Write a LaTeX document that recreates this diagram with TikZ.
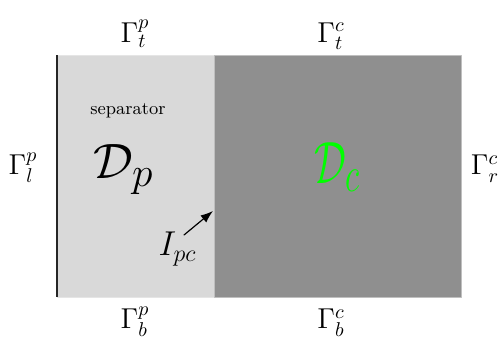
\documentclass[tikz,border=0pt]{standalone}
\usetikzlibrary{arrows.meta}
\tikzset{
  bdry/.style={anchor=base, font=\Large},
  domlabel/.style={anchor=base, font=\Huge},
}
\begin{document}
\begin{tikzpicture}[line cap=round,line join=round]
  \useasboundingbox (0,0) rectangle (8.835,6.107);
  % separator and cathode
  \filldraw[fill=black!15, draw=black!10, line width=0.4pt] (1.003,0.880) rectangle (3.766,5.139);
  \filldraw[fill=black!44, draw=black!25, line width=0.4pt] (3.766,0.880) rectangle (8.114,5.139);
  \draw[line width=0.8pt, black!85, line cap=butt] (1.003,0.880) -- (1.003,5.139);
  % boundaries
  \node[bdry] (gpt) at (2.376,5.367) {$\Gamma_t^p$};
  \node[bdry] (gct) at (5.826,5.367) {$\Gamma_t^c$};
  \node[bdry] (gpl) at (0.405,3.027) {$\Gamma_l^p$};
  \node[bdry] (gcr) at (8.536,3.027) {$\Gamma_r^c$};
  \node[bdry] (gpb) at (2.376,0.317) {$\Gamma_b^p$};
  \node[bdry] (gcb) at (5.826,0.317) {$\Gamma_b^c$};
  % domains
  \node[anchor=base, font=\small] (sep) at (2.253,4.100) {separator};
  \node[domlabel] (dp) at (2.174,2.957) {$\mathcal{D}_p$};
  \node[domlabel, text=green] (dc) at (5.940,2.886)
    {\scalebox{0.8}[1.2]{$\mathcal{D}_c$}};
  % interface
  \node[anchor=base, font=\LARGE] (ipc) at (3.124,1.602) {$I_{pc}$};
  \coordinate (ipctip) at (3.749,2.394);
  \draw[-{Latex[length=2.2mm,width=1.6mm]}, line width=0.6pt] (3.238,1.971) -- (ipctip);
\end{tikzpicture}
\end{document}
